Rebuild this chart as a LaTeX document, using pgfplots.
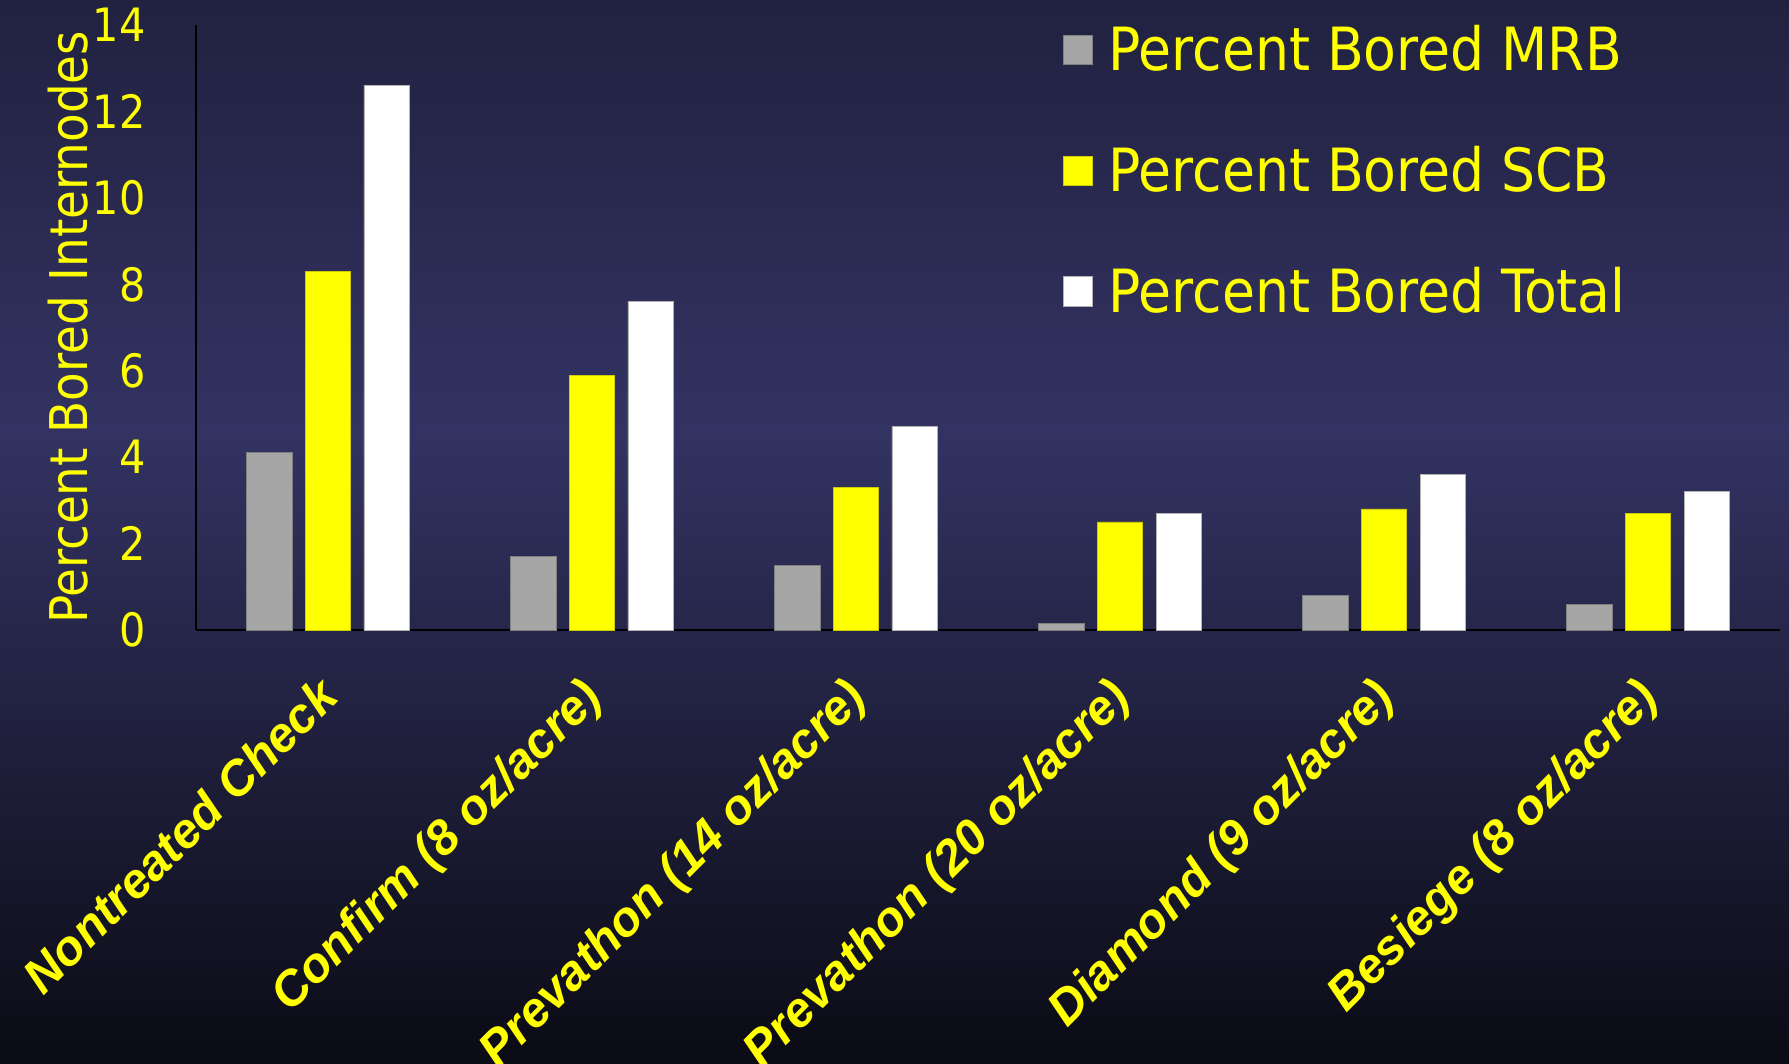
\documentclass[border=0pt]{standalone}
\usepackage{fontspec}
\usepackage{pgfplots}
\pgfplotsset{compat=1.18}
\newfontfamily\tfont{DejaVu Sans Condensed}
\newfontfamily\lfont{Liberation Sans}
\definecolor{bgtop}{RGB}{33,33,64}
\definecolor{bgmid}{RGB}{51,51,99}
\definecolor{bgbot}{RGB}{11,11,21}
\definecolor{mrb}{RGB}{166,166,166}
\definecolor{ylw}{RGB}{255,255,0}
\begin{document}
\begin{tikzpicture}
\shade[top color=bgtop, bottom color=bgmid] (-98pt,315pt) rectangle (796.5pt,100pt);
\shade[top color=bgmid, bottom color=bgbot] (-98pt,100.2pt) rectangle (796.5pt,-217pt);
\begin{axis}[at={(0pt,0pt)}, anchor=south west, scale only axis,
  width=792pt, height=302.5pt,
  xmin=-0.5, xmax=5.5, ymin=0, ymax=14,
  axis x line=bottom, axis y line=left,
  axis line style={-, black, line width=1pt},
  major tick length=0pt,
  xtick={0,1,2,3,4,5},
  xticklabels={Nontreated Check, Confirm (8 oz/acre), Prevathon (14 oz/acre), Prevathon (20 oz/acre), Diamond (9 oz/acre), Besiege (8 oz/acre)},
  xticklabel style={rotate=45, anchor=north east, inner sep=0pt,
    font=\lfont\bfseries\itshape\fontsize{24.5}{24.5}\selectfont, text=ylw,
    xshift=-20pt, yshift=-11pt},
  ytick={0,2,4,6,8,10,12,14},
  yticklabels={0,2,4,6,8,10,12,14},
  yticklabel style={anchor=east, inner sep=0pt, xshift=-25pt,
    font=\tfont\fontsize{23}{23}\selectfont, text=ylw},
  ylabel={Percent Bored Internodes},
  every axis y label/.style={at={(axis description cs:-0.0808,0.5)}, rotate=90,
    anchor=center, font=\tfont\fontsize{26}{26}\selectfont, text=ylw},
  ybar, bar width=22.8pt,
  legend image code/.code={\fill[#1] (0pt,-7.3pt) rectangle (14.6pt,7.3pt);},
  legend cell align=left,
  legend style={draw=none, fill=none, text=ylw,
    font=\tfont\fontsize{29.8}{29.8}\selectfont,
    at={(axis description cs:0.5431,1.0064)}, anchor=north west,
    row sep=36.3pt, column sep=8pt, nodes={inner sep=0pt}},
]
\addplot[fill=mrb, draw=gray, line width=0.4pt, bar shift=-29.4pt]
  coordinates {(0,4.1) (1,1.7) (2,1.5) (3,0.15) (4,0.8) (5,0.6)};
\addplot[fill=ylw, draw=ylw!80!black, line width=0.4pt, bar shift=0pt]
  coordinates {(0,8.3) (1,5.9) (2,3.3) (3,2.5) (4,2.8) (5,2.7)};
\addplot[fill=white, draw=gray!60, line width=0.4pt, bar shift=29.4pt]
  coordinates {(0,12.6) (1,7.6) (2,4.7) (3,2.7) (4,3.6) (5,3.2)};
\legend{Percent Bored MRB, Percent Bored SCB, Percent Bored Total}
\end{axis}
\pgfresetboundingbox
\path[use as bounding box] (-98pt,-217pt) rectangle (796.5pt,315pt);
\end{tikzpicture}
\end{document}
